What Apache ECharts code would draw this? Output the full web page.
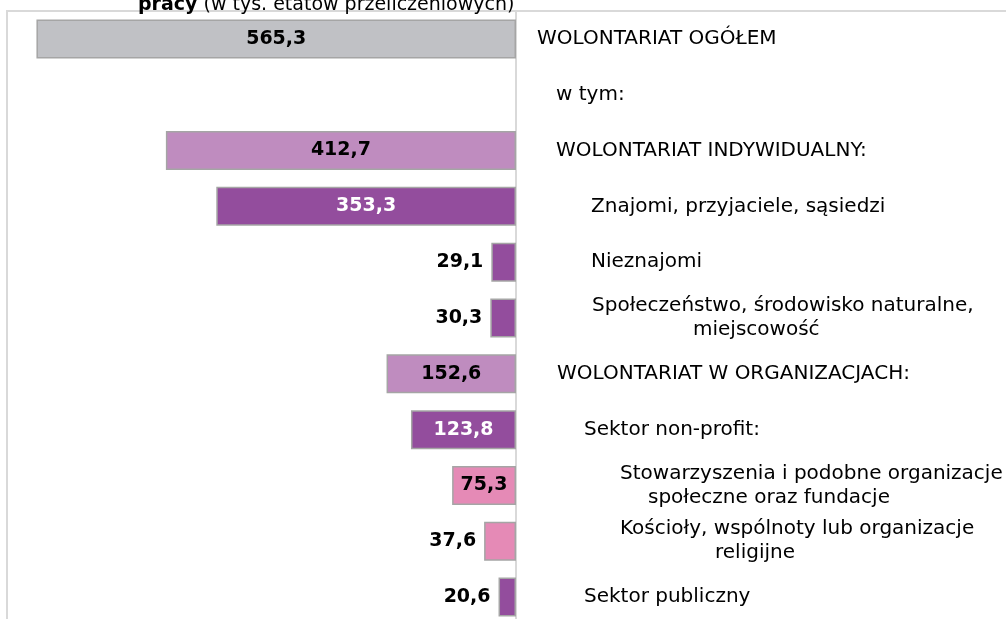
<!DOCTYPE html>
<html>
<head>
<meta charset="utf-8">
<script src="https://cdn.jsdelivr.net/npm/echarts@6/dist/echarts.min.js"></script>
<style>
  html, body { margin: 0; padding: 0; background: #fff; overflow: hidden; }
  #chart { width: 1006px; height: 640px; }
</style>
</head>
<body>
<div id="chart"></div>
<script>
// kategorie (od góry)
var categories = [
  'WOLONTARIAT OGÓŁEM',
  'w tym:',
  'WOLONTARIAT INDYWIDUALNY:',
  'Znajomi, przyjaciele, sąsiedzi',
  'Nieznajomi',
  'Społeczeństwo, środowisko naturalne,\nmiejscowość',
  'WOLONTARIAT W ORGANIZACJACH:',
  'Sektor non-profit:',
  'Stowarzyszenia i podobne organizacje\nspołeczne oraz fundacje',
  'Kościoły, wspólnoty lub organizacje\nreligijne',
  'Sektor publiczny'
];

// tys. etatów przeliczeniowych
var values = [565.3, '-', 412.7, 353.3, 29.1, 30.3, 152.6, 123.8, 75.3, 37.6, 20.6];

// styl: kolor słupka i wcięcie etykiety (px od osi) dla każdej linii
var barColors = ['#c0c1c5', null, '#bf8cbf', '#934d9d', '#934d9d', '#934d9d',
                 '#bf8cbf', '#934d9d', '#e58ab6', '#e58ab6', '#934d9d'];
var indents = [[21], [40], [40], [75], [75], [76, 177], [41], [68], [104, 132], [104, 199], [68]];

var chart = echarts.init(document.getElementById('chart'));

var rich = {};
indents.forEach(function (row, i) {
  row.forEach(function (px, j) {
    rich['l' + i + '_' + j] = {
      padding: [0, 0, 0, px],
      fontSize: 20,
      lineHeight: 24,
      fontFamily: 'DejaVu Sans',
      color: '#000'
    };
  });
});

var barData = values.map(function (v, i) {
  if (v === '-') return v;
  var inside = v > 60;
  var dark = barColors[i] === '#934d9d';
  return {
    value: v,
    itemStyle: { color: barColors[i] },
    label: {
      position: inside ? 'inside' : 'left',
      color: inside && dark ? '#fff' : '#000'
    }
  };
});

var option = {
  animation: false,
  title: {
    text: '{b|pracy} (w tys. etatów przeliczeniowych)',
    left: 133,
    top: -9,
    textStyle: {
      fontSize: 19,
      fontWeight: 'normal',
      fontFamily: 'DejaVu Sans',
      color: '#000',
      rich: {
        b: { fontSize: 19, fontWeight: 'bold', fontFamily: 'DejaVu Sans', color: '#000' }
      }
    }
  },
  graphic: [{
    type: 'rect',
    shape: { x: 7, y: 11, width: 1020, height: 700 },
    style: { fill: 'none', stroke: '#d9d9d9', lineWidth: 2 },
    z: -1
  }],
  grid: { left: 7, right: 490, top: 11, height: 614 },
  xAxis: {
    type: 'value',
    inverse: true,
    min: 0,
    max: 600,
    show: false
  },
  yAxis: {
    type: 'category',
    data: categories,
    inverse: true,
    position: 'right',
    axisLine: { show: true, lineStyle: { color: '#d9d9d9', width: 2 } },
    axisTick: { show: false },
    axisLabel: {
      margin: 0,
      align: 'left',
      formatter: function (val, idx) {
        return val.split('\n').map(function (line, j) {
          return '{l' + idx + '_' + j + '|' + line + '}';
        }).join('\n');
      },
      rich: rich
    }
  },
  series: [{
    type: 'bar',
    data: barData,
    barWidth: 39,
    itemStyle: { borderColor: '#a5a5a5', borderWidth: 1.5 },
    label: {
      show: true,
      distance: 8,
      fontSize: 19,
      fontWeight: 'bold',
      fontFamily: 'DejaVu Sans',
      formatter: function (p) {
        return String(p.value).replace('.', ',');
      }
    }
  }]
};

chart.setOption(option);
</script>
</body>
</html>
